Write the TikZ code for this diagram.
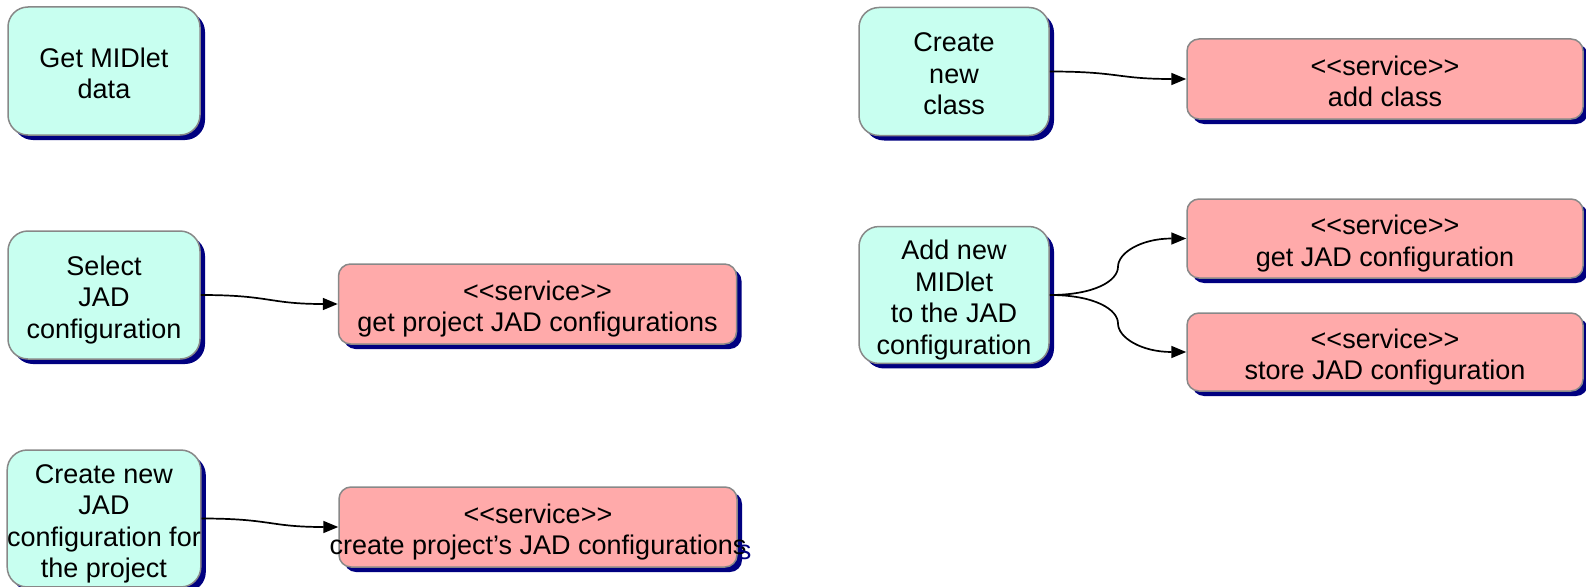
\documentclass[tikz,border=0pt]{standalone}
\usepackage{fontspec}
\setmainfont{Liberation Sans}
\usetikzlibrary{shadows,arrows.meta,calc}
\definecolor{aqua}{HTML}{C8FFF0}
\definecolor{rose}{HTML}{FFAAAA}
\definecolor{navy}{HTML}{000080}
\definecolor{edgegrey}{HTML}{888888}
\newcommand{\svc}{<\kern0pt<service>\kern0pt>}
\renewcommand{\arraystretch}{1}
\newcommand{\stk}[1]{\begin{tabular}{@{}c@{}}\rule{0pt}{33pt}#1\end{tabular}}
\tikzset{
  boxbase/.style={draw=edgegrey, line width=1.5pt, inner sep=0pt,
    font=\fontsize{27}{31.5}\selectfont,
    drop shadow={shadow xshift=5pt, shadow yshift=-5pt, fill=navy, opacity=1}},
  usecase/.style={boxbase, fill=aqua, rounded corners=20pt, minimum width=192pt, minimum height=128pt},
  service/.style={boxbase, fill=rose, rounded corners=12pt, minimum width=398pt, minimum height=80pt},
  plaintext/.style={inner sep=0pt, font=\fontsize{27}{31.5}\selectfont},
  conn/.style={draw, line width=1.7pt, -{Triangle[length=15pt,width=12pt]}}
}
\begin{document}
\begin{tikzpicture}[x=1pt,y=-1pt]
\useasboundingbox (0,0) rectangle (1586,586);
% left column
\node[usecase] (getdata) at (104,71) {\stk{Get MIDlet\\data}};
\node[usecase] (selectjad) at (104,295) {\stk{Select\\JAD\\configuration}};
\node[usecase, minimum height=127pt] (createjad) at (104,518.5) {\stk{Create new\\JAD\\configuration for\\the project}};
% left services
\node[service] (getproj) at (537.5,304) {\stk{\svc\\get project JAD configurations}};
\node[service] (createproj) at (538,527) {};
\node[plaintext] (createprojtext) at (538,527) {\stk{\svc\\create project’s JAD configurations}};
\node[plaintext, text=navy, anchor=base east] (sshadow) at ($(createprojtext.south east)+(5,-4.45)$) {s};
% right column
\node[usecase, minimum width=190pt] (newclass) at (954,71.5) {\stk{Create\\new\\class}};
\node[usecase, minimum width=190pt] (addmidlet) at (954,295) {\stk{Add new\\MIDlet\\to the JAD\\configuration}};
% right services
\node[service, minimum width=396pt] (addclass) at (1385,79) {\stk{\svc\\add class}};
\node[service, minimum width=396pt, minimum height=79pt] (getjad) at (1385,238.5) {\stk{\svc\\get JAD configuration}};
\node[service, minimum width=396pt, minimum height=78pt] (storejad) at (1385,352) {\stk{\svc\\store JAD configuration}};
% connectors
\draw[conn] (selectjad.east) .. controls +(70,0) and +(-70,0) .. (getproj.west);
\draw[conn] (createjad.east) .. controls +(70,0) and +(-70,0) .. (createproj.west);
\draw[conn] (newclass.east) .. controls +(70,0) and +(-70,0) .. (addclass.west);
\coordinate (mtop) at ($(addmidlet.east)!0.5!(getjad.west)$);
\coordinate (mbot) at ($(addmidlet.east)!0.5!(storejad.west)$);
\draw[conn] (addmidlet.east) .. controls +(45,0) and +(0,14) .. (mtop) .. controls +(0,-14) and +(-45,0) .. (getjad.west);
\draw[conn] (addmidlet.east) .. controls +(45,0) and +(0,-14) .. (mbot) .. controls +(0,14) and +(-45,0) .. (storejad.west);
\end{tikzpicture}
\end{document}
